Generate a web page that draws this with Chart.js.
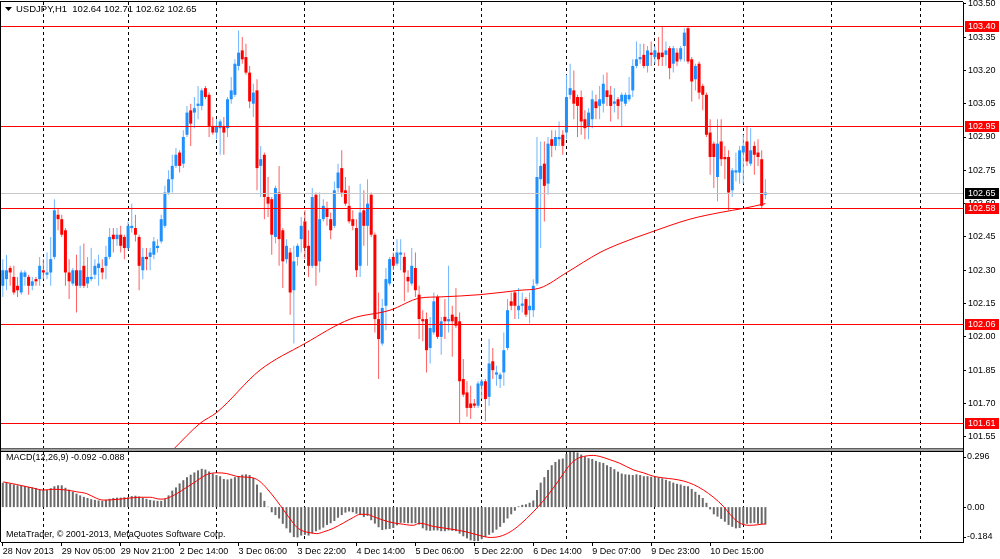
<!DOCTYPE html>
<html>
<head>
<meta charset="utf-8">
<title>USDJPY,H1</title>
<script src="https://cdn.jsdelivr.net/npm/chart.js@4.4.1/dist/chart.umd.min.js"></script>
<style>
  html, body { margin: 0; padding: 0; background: #fff; }
  #c { display: block; }
</style>
</head>
<body>
<canvas id="c" width="1000" height="559"></canvas>
<script>
// ===== USDJPY H1 candles + MACD, MetaTrader look =====

// hourly bars, 28 Nov 13:00 -> 11 Dec 06:00
const barOpen = [
  102.23,102.26,102.31,102.27,102.23,102.20,102.27,102.27,102.23,102.26,
  102.26,102.30,102.28,102.29,102.36,102.55,102.53,102.48,102.29,102.24,
  102.30,102.23,102.32,102.24,102.26,102.28,102.31,102.31,102.32,102.36,
  102.46,102.44,102.46,102.45,102.40,102.49,102.49,102.45,102.30,102.36,
  102.36,102.37,102.40,102.43,102.50,102.65,102.71,102.77,102.83,102.78,
  102.91,103.02,103.01,103.04,103.04,103.12,103.09,102.95,102.92,102.94,
  102.95,102.94,103.07,103.09,103.22,103.29,103.26,103.19,103.05,103.11,
  102.77,102.82,102.63,102.62,102.45,102.65,102.48,102.35,102.38,102.21,
  102.36,102.44,102.52,102.41,102.32,102.64,102.34,102.53,102.58,102.53,
  102.50,102.67,102.76,102.66,102.59,102.53,102.49,102.32,102.57,102.50,
  102.64,102.46,102.08,101.97,102.14,102.24,102.36,102.33,102.37,102.36,
  102.27,102.24,102.31,102.19,102.08,102.08,101.95,102.02,102.18,102.00,
  102.09,102.07,102.10,102.09,102.07,101.81,101.75,101.70,101.70,101.69,
  101.78,101.80,101.73,101.89,101.83,101.81,101.84,101.95,102.16,102.20,
  102.12,102.14,102.17,102.12,102.12,102.24,102.71,102.78,102.69,102.89,
  102.86,102.89,102.91,102.92,103.09,103.11,103.08,103.08,102.98,102.95,
  102.98,103.06,103.04,103.05,103.11,103.09,103.05,103.07,103.06,103.05,
  103.07,103.11,103.22,103.25,103.27,103.22,103.28,103.26,103.28,103.28,
  103.27,103.30,103.23,103.28,103.25,103.31,103.39,103.25,103.16,103.23,
  103.13,103.09,102.92,102.87,102.72,102.88,102.81,102.81,102.66,102.74,
  102.74,102.83,102.88,102.78,102.86,102.83,102.80,102.64
];
const barHigh = [
  102.35,102.37,102.32,102.32,102.27,102.30,102.30,102.28,102.27,102.27,
  102.36,102.35,102.38,102.45,102.62,102.58,102.55,102.49,102.35,102.31,
  102.37,102.41,102.42,102.36,102.40,102.35,102.37,102.35,102.41,102.49,
  102.49,102.49,102.50,102.46,102.52,102.60,102.55,102.46,102.40,102.40,
  102.40,102.45,102.44,102.55,102.68,102.75,102.82,102.85,102.84,102.93,
  103.04,103.05,103.08,103.13,103.12,103.13,103.10,102.99,102.98,102.98,
  102.99,103.08,103.17,103.25,103.38,103.35,103.32,103.22,103.14,103.16,
  102.86,102.83,102.72,102.63,102.68,102.77,102.49,102.44,102.40,102.41,
  102.42,102.54,102.57,102.48,102.67,102.65,102.65,102.62,102.61,102.56,
  102.70,102.78,102.84,102.72,102.68,102.57,102.53,102.69,102.66,102.71,
  102.65,102.47,102.20,102.17,102.31,102.36,102.38,102.44,102.44,102.38,
  102.30,102.40,102.38,102.23,102.12,102.11,102.09,102.20,102.19,102.09,
  102.17,102.32,102.14,102.22,102.11,101.90,101.80,101.78,101.72,101.80,
  101.81,101.81,101.99,101.95,101.87,101.84,102.02,102.17,102.20,102.21,
  102.22,102.20,102.18,102.20,102.26,102.90,102.88,102.88,102.90,102.93,
  102.93,102.97,102.93,103.18,103.23,103.20,103.09,103.11,103.02,103.03,
  103.11,103.09,103.13,103.18,103.19,103.13,103.12,103.08,103.10,103.10,
  103.17,103.25,103.33,103.32,103.32,103.31,103.33,103.31,103.35,103.40,
  103.33,103.31,103.31,103.30,103.31,103.39,103.40,103.26,103.23,103.24,
  103.14,103.10,102.98,102.88,102.98,102.98,102.86,102.84,102.76,102.83,
  102.86,102.91,102.95,102.94,102.88,102.89,102.84,102.71
];
const barLow = [
  102.18,102.21,102.23,102.19,102.18,102.19,102.23,102.19,102.21,102.23,
  102.23,102.26,102.26,102.23,102.35,102.48,102.45,102.23,102.17,102.23,
  102.11,102.22,102.22,102.22,102.25,102.26,102.23,102.26,102.26,102.35,
  102.38,102.41,102.38,102.35,102.39,102.47,102.43,102.21,102.26,102.30,
  102.30,102.35,102.38,102.42,102.49,102.64,102.65,102.76,102.74,102.76,
  102.90,102.86,102.94,102.98,103.02,103.07,102.90,102.91,102.89,102.82,
  102.82,102.90,103.05,103.08,103.20,103.23,103.18,103.03,102.99,102.66,
  102.63,102.53,102.54,102.37,102.42,102.32,102.22,102.33,102.10,101.97,
  102.32,102.38,102.35,102.27,102.31,102.23,102.29,102.52,102.50,102.44,
  102.49,102.65,102.63,102.59,102.51,102.48,102.27,102.27,102.41,102.32,
  102.45,102.02,101.81,101.96,102.03,102.23,102.30,102.32,102.30,102.16,
  102.20,102.23,102.18,101.99,101.98,101.84,101.88,102.01,101.99,101.92,
  101.99,102.02,101.91,102.04,101.61,101.73,101.64,101.63,101.68,101.68,
  101.72,101.62,101.69,101.81,101.78,101.77,101.78,101.94,102.12,102.08,
  102.08,102.11,102.09,102.06,102.09,102.23,102.40,102.52,102.64,102.81,
  102.84,102.86,102.82,102.89,103.07,102.98,102.90,102.91,102.89,102.89,
  102.94,102.98,102.98,103.01,103.04,102.97,103.01,102.98,102.95,103.04,
  103.06,103.08,103.21,103.23,103.21,103.19,103.22,103.23,103.22,103.22,
  103.22,103.16,103.19,103.22,103.24,103.24,103.23,103.06,103.11,103.07,
  103.02,102.90,102.73,102.67,102.61,102.77,102.71,102.57,102.63,102.70,
  102.69,102.69,102.77,102.77,102.73,102.77,102.58,102.62
];
const barClose = [
  102.30,102.30,102.29,102.20,102.21,102.29,102.29,102.23,102.25,102.25,
  102.32,102.29,102.29,102.35,102.57,102.53,102.46,102.29,102.25,102.30,
  102.23,102.30,102.23,102.27,102.27,102.32,102.33,102.29,102.36,102.45,
  102.44,102.46,102.41,102.40,102.50,102.50,102.46,102.32,102.36,102.35,
  102.38,102.43,102.41,102.53,102.65,102.71,102.77,102.82,102.77,102.90,
  103.01,102.96,103.03,103.05,103.11,103.08,102.95,102.92,102.95,102.97,
  102.92,103.07,103.11,103.23,103.28,103.25,103.19,103.06,103.10,102.76,
  102.80,102.63,102.60,102.46,102.67,102.44,102.34,102.41,102.20,102.34,
  102.41,102.50,102.40,102.32,102.63,102.32,102.53,102.59,102.54,102.48,
  102.66,102.74,102.65,102.60,102.52,102.50,102.30,102.56,102.50,102.60,
  102.46,102.08,101.99,102.13,102.26,102.35,102.32,102.38,102.38,102.29,
  102.25,102.32,102.21,102.08,102.07,101.94,102.04,102.16,102.00,102.07,
  102.07,102.08,102.07,102.05,101.80,101.74,101.68,101.68,101.69,101.79,
  101.80,101.72,101.88,101.85,101.84,101.83,101.94,102.12,102.14,102.14,
  102.14,102.15,102.10,102.14,102.23,102.72,102.77,102.68,102.87,102.86,
  102.90,102.90,102.86,103.08,103.12,103.05,103.04,102.97,102.94,103.01,
  103.07,103.03,103.07,103.14,103.08,103.04,103.06,103.04,103.09,103.09,
  103.09,103.22,103.25,103.26,103.22,103.29,103.27,103.29,103.25,103.26,
  103.29,103.21,103.30,103.24,103.30,103.37,103.24,103.15,103.22,103.10,
  103.09,102.91,102.81,102.81,102.87,102.80,102.80,102.65,102.75,102.75,
  102.84,102.86,102.79,102.84,102.82,102.81,102.59,102.65
];

// MACD(12,26,9) main values, drawn as histogram
const macdHist = [
  0.129,0.127,0.123,0.119,0.115,0.113,0.110,0.106,0.104,0.100,
  0.094,0.090,0.090,0.100,0.110,0.115,0.115,0.102,0.092,0.081,
  0.071,0.062,0.054,0.048,0.042,0.038,0.035,0.033,0.038,0.044,
  0.048,0.050,0.050,0.052,0.052,0.058,0.060,0.056,0.050,0.044,
  0.038,0.035,0.033,0.033,0.042,0.062,0.087,0.104,0.125,0.142,
  0.158,0.171,0.183,0.194,0.202,0.198,0.188,0.177,0.169,0.163,
  0.148,0.146,0.150,0.158,0.163,0.171,0.173,0.169,0.154,0.119,
  0.077,0.033,0.002,-0.027,-0.042,-0.060,-0.088,-0.112,-0.135,-0.158,
  -0.160,-0.150,-0.146,-0.150,-0.138,-0.127,-0.119,-0.108,-0.094,-0.085,
  -0.073,-0.056,-0.042,-0.029,-0.023,-0.027,-0.035,-0.042,-0.052,-0.046,
  -0.069,-0.087,-0.106,-0.121,-0.117,-0.115,-0.110,-0.096,-0.083,-0.083,
  -0.085,-0.085,-0.085,-0.092,-0.112,-0.123,-0.125,-0.123,-0.123,-0.127,
  -0.127,-0.123,-0.125,-0.127,-0.140,-0.154,-0.165,-0.175,-0.179,-0.179,
  -0.169,-0.158,-0.146,-0.135,-0.119,-0.104,-0.083,-0.060,-0.038,-0.019,
  0.004,0.012,0.015,0.023,0.035,0.090,0.129,0.158,0.196,0.221,
  0.238,0.252,0.256,0.281,0.296,0.296,0.288,0.277,0.267,0.258,
  0.254,0.244,0.237,0.233,0.221,0.212,0.200,0.187,0.177,0.173,
  0.171,0.169,0.173,0.169,0.163,0.163,0.160,0.158,0.156,0.152,
  0.144,0.137,0.129,0.123,0.119,0.112,0.110,0.096,0.081,0.065,
  0.048,0.023,-0.012,-0.038,-0.050,-0.062,-0.077,-0.094,-0.104,-0.112,
  -0.110,-0.094,-0.088,-0.085,-0.083,-0.088,-0.090,-0.092
];

// MACD signal line, read at points along the curve (bar index, value)
const signalIdx = [0.1,3.8,8.3,11.0,13.7,17.3,20.0,22.8,25.5,27.3,29.1,31.8,34.5,37.2,40.0,42.7,44.5,47.2,49.9,52.6,
  55.3,58.1,60.8,63.5,66.2,68.0,69.8,71.6,74.4,76.2,78.0,79.8,81.6,83.4,85.2,87.0,89.7,92.5,95.2,97.0,
  98.8,100.6,103.3,106.0,107.8,111.4,113.2,116.9,121.4,125.9,129.5,132.3,135.0,137.7,140.4,144.0,146.7,149.4,152.2,154.0,
  155.8,157.6,160.3,162.1,164.8,167.5,171.2,173.9,176.6,179.3,182.0,184.7,187.5,190.2,192.9,195.6,197.4,199.2,201.0,202.8,207];
const signalVal = [0.133,0.119,0.100,0.090,0.094,0.090,0.081,0.071,0.046,0.037,0.038,0.042,0.048,0.052,0.052,0.042,0.046,0.071,0.104,0.138,
  0.171,0.181,0.177,0.162,0.158,0.154,0.135,0.100,0.033,-0.015,-0.063,-0.106,-0.127,-0.135,-0.140,-0.131,-0.112,-0.083,-0.054,-0.038,
  -0.038,-0.050,-0.069,-0.083,-0.088,-0.096,-0.085,-0.102,-0.115,-0.131,-0.150,-0.160,-0.154,-0.131,-0.092,-0.025,0.033,0.100,0.177,0.225,
  0.254,0.267,0.273,0.267,0.250,0.231,0.196,0.181,0.163,0.154,0.148,0.138,0.119,0.090,0.052,0.004,-0.038,-0.073,-0.092,-0.096,-0.088];

// moving average on the price pane (bar index, price)
const maIdx = [46.1,53.5,58.1,69.8,82.0,94.3,105.1,113.3,118.7,129.5,140.4,145.8,153.1,162.1,167.5,175.7,186.5,194.7,201.5,207];
const maVal = [101.49,101.61,101.66,101.85,101.97,102.08,102.12,102.175,102.18,102.19,102.21,102.22,102.29,102.38,102.42,102.47,102.53,102.56,102.58,102.60];

// time axis
const timeLabelIdx = [0,16,32,48,64,80,96,112,128,144,160,176,192];
const timeLabels = ['28 Nov 2013','29 Nov 05:00','29 Nov 21:00','2 Dec 14:00','3 Dec 06:00','3 Dec 22:00',
  '4 Dec 14:00','5 Dec 06:00','5 Dec 22:00','6 Dec 14:00','9 Dec 07:00','9 Dec 23:00','10 Dec 15:00'];
const daySepIdx = [11,34,58,82,106,130,153,177,201,225,249];

// price axis and horizontal levels
const priceTicks = [103.50,103.35,103.20,103.05,102.90,102.75,102.60,102.45,102.30,102.15,102.00,101.85,101.70,101.55];
const levelPrices = [103.40,102.95,102.58,102.06,101.61];
const bidPrice = 102.65;
const macdTicks = [0.296, 0, -0.184];

const headerText = 'USDJPY,H1  102.64 102.71 102.62 102.65';
const macdText = 'MACD(12,26,9) -0.092 -0.088';
const copyText = 'MetaTrader, \u00A9 2001-2013, MetaQuotes Software Corp.';

const FONT = '"Liberation Sans", Arial, sans-serif';
Chart.defaults.font.family = FONT;
Chart.defaults.font.size = 9;
Chart.defaults.color = '#000';

const xMin = -0.49, xMax = 260.64;
const isUp = barOpen.map((o, i) => barClose[i] >= o);

// levels, tags, frame and captions
const mtPlugin = {
  id: 'mt',
  beforeDraw(chart) {
    const c = chart.ctx;
    c.save();
    c.fillStyle = '#fff';
    c.fillRect(0, 0, chart.width, chart.height);
    c.restore();
  },
  afterDatasetsDraw(chart) {
    const c = chart.ctx, a = chart.chartArea, y = chart.scales.y;
    c.save();
    c.lineWidth = 1;
    // bid line
    let py = Math.round(y.getPixelForValue(bidPrice)) + 0.5;
    c.strokeStyle = '#c8c8c8';
    c.beginPath(); c.moveTo(a.left, py); c.lineTo(a.right, py); c.stroke();
    // horizontal levels
    c.strokeStyle = '#ff0000';
    levelPrices.forEach(p => {
      const ly = Math.round(y.getPixelForValue(p)) + 0.5;
      c.beginPath(); c.moveTo(a.left, ly); c.lineTo(a.right, ly); c.stroke();
    });
    // pane separator
    c.fillStyle = '#a0a0a0';
    c.fillRect(a.left, y.bottom - 2, a.right - a.left, 2);
    c.fillStyle = '#000';
    c.fillRect(a.left, y.bottom, a.right - a.left, 1);
    c.fillStyle = '#606060';
    c.fillRect(a.left, y.bottom - 3, a.right - a.left, 1);
    // frame
    c.fillStyle = '#000';
    c.fillRect(0, a.top - 1, a.right, 1);
    c.fillRect(0, a.top - 1, 1, a.bottom - a.top + 1);
    c.restore();
  },
  afterDraw(chart) {
    const c = chart.ctx, a = chart.chartArea, y = chart.scales.y, ym = chart.scales.ym;
    c.save();
    c.font = '9px ' + FONT;
    c.textBaseline = 'middle';
    // MACD scale labels
    c.fillStyle = '#000';
    macdTicks.forEach(v => {
      let ty = ym.getPixelForValue(v);
      ty = Math.min(Math.max(ty, ym.top + 6), ym.bottom - 5);
      c.fillRect(a.right, Math.round(ty), 3, 1);
      c.fillText(v === 0 ? '0.00' : String(v), a.right + 4, ty);
    });
    // price tags
    const tag = (p, bg) => {
      const ty = Math.round(y.getPixelForValue(p));
      c.fillStyle = bg;
      c.fillRect(a.right + 2, ty - 5, 34, 11);
      c.fillStyle = '#fff';
      c.fillText(p.toFixed(2), a.right + 5, ty + 0.5);
    };
    levelPrices.forEach(p => tag(p, '#ff0000'));
    tag(bidPrice, '#000');
    // captions
    c.fillStyle = '#000';
    c.beginPath();
    c.moveTo(5, 7); c.lineTo(12, 7); c.lineTo(8.5, 11); c.closePath(); c.fill();
    c.font = '9.5px ' + FONT;
    c.fillText(headerText, 16, 9.5);
    c.font = '9px ' + FONT;
    c.fillText(macdText, 6, ym.top + 7);
    c.fillText(copyText, 6, ym.bottom - 7);
    c.restore();
  }
};

const ctx = document.getElementById('c').getContext('2d');
new Chart(ctx, {
  type: 'bar',
  data: {
    datasets: [
      {
        type: 'line', label: 'MA', yAxisID: 'y', order: 0,
        data: maIdx.map((x, k) => ({ x: x, y: maVal[k] })),
        borderColor: '#ff0000', borderWidth: 1, pointRadius: 0,
        cubicInterpolationMode: 'monotone'
      },
      {
        type: 'line', label: 'Signal', yAxisID: 'ym', order: 0,
        data: signalIdx.map((x, k) => ({ x: x, y: signalVal[k] })),
        borderColor: '#ff0000', borderWidth: 1, pointRadius: 0,
        cubicInterpolationMode: 'monotone'
      },
      {
        label: 'Body', yAxisID: 'y', order: 1,
        data: barOpen.map((o, i) => ({ x: i, y: [o, barClose[i]] })),
        backgroundColor: isUp.map(u => u ? '#1e90ff' : '#ff0000'),
        grouped: false, barPercentage: 1, categoryPercentage: 1,
        maxBarThickness: 3, minBarLength: 1, inflateAmount: 0, borderWidth: 0
      },
      {
        label: 'Wick', yAxisID: 'y', order: 2,
        data: barHigh.map((h, i) => ({ x: i, y: [barLow[i], h] })),
        backgroundColor: isUp.map(u => u ? '#6fb5ff' : '#ff6060'),
        grouped: false, barPercentage: 1, categoryPercentage: 1,
        maxBarThickness: 1, inflateAmount: 0, borderWidth: 0
      },
      {
        label: 'MACD', yAxisID: 'ym', order: 1,
        data: macdHist.map((v, i) => ({ x: i, y: v })),
        backgroundColor: '#6a6a6a',
        grouped: false, barPercentage: 1, categoryPercentage: 1,
        maxBarThickness: 2, inflateAmount: 0, borderWidth: 0
      }
    ]
  },
  options: {
    responsive: false,
    animation: false,
    events: [],
    layout: { padding: { top: 2, left: 1, right: 0, bottom: 0 } },
    plugins: { legend: { display: false }, tooltip: { enabled: false } },
    scales: {
      x: {
        type: 'linear', position: 'bottom', min: xMin, max: xMax, offset: false,
        grid: { drawOnChartArea: false, tickLength: 4, color: '#000', offset: false },
        border: { color: '#000' },
        ticks: {
          autoSkip: false, maxRotation: 0, minRotation: 0, align: 'start', padding: 0,
          callback: (v, i) => timeLabels[i]
        },
        afterBuildTicks: s => { s.ticks = timeLabelIdx.map(v => ({ value: v })); },
        afterFit: s => { s.height = 17; s.paddingLeft = 0; s.paddingRight = 0; }
      },
      x2: {
        type: 'linear', position: 'top', min: xMin, max: xMax, offset: false,
        grid: { drawOnChartArea: true, drawTicks: false, color: '#000', lineWidth: 1, offset: false, borderDash: [3, 3] },
        border: { display: false, dash: [3, 3] },
        ticks: { display: false },
        afterBuildTicks: s => { s.ticks = daySepIdx.map(v => ({ value: v })); },
        afterFit: s => { s.height = 0; s.paddingLeft = 0; s.paddingRight = 0; }
      },
      y: {
        type: 'linear', position: 'right', stack: 'pane', stackWeight: 449,
        min: 101.486, max: 103.508,
        grid: { drawOnChartArea: false, tickLength: 3, color: '#000' },
        border: { color: '#000' },
        ticks: { padding: 2, callback: v => v.toFixed(2) },
        afterBuildTicks: s => { s.ticks = priceTicks.map(v => ({ value: v })); },
        afterFit: s => { s.width = 37; s.paddingTop = 0; s.paddingBottom = 0; }
      },
      ym: {
        type: 'linear', position: 'right', stack: 'pane', stackWeight: 91,
        min: -0.184, max: 0.296,
        grid: { display: false },
        border: { color: '#000' },
        ticks: { display: false },
        afterFit: s => { s.width = 37; s.paddingTop = 0; s.paddingBottom = 0; }
      }
    }
  },
  plugins: [mtPlugin]
});
</script>
</body>
</html>
